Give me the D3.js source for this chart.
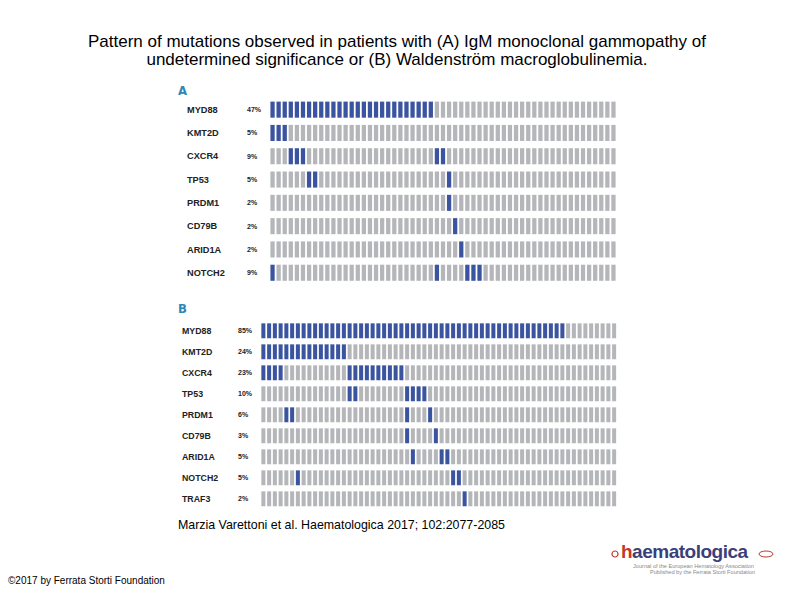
<!DOCTYPE html>
<html>
<head>
<meta charset="utf-8">
<script src="https://cdn.jsdelivr.net/npm/d3@7"></script>
<style>
  body { margin: 0; background: #fff; }
  svg { font-family: "Liberation Sans", Arial, sans-serif; }
</style>
</head>
<body>
<div id="chart"></div>
<script>
// panel A: IgM MGUS (57 patients)
var genesA = ["MYD88", "KMT2D", "CXCR4", "TP53", "PRDM1", "CD79B", "ARID1A", "NOTCH2"];
var pctA = ["47%", "5%", "9%", "5%", "2%", "2%", "2%", "9%"];
var patientsA = 57;
var mutatedA = [
  d3.range(0, 27),
  [0, 1, 2],
  [3, 4, 5, 27, 28],
  [6, 7, 29],
  [29],
  [30],
  [31],
  [0, 27, 32, 33, 34]
];

// panel B: Waldenström macroglobulinemia (62 patients)
var genesB = ["MYD88", "KMT2D", "CXCR4", "TP53", "PRDM1", "CD79B", "ARID1A", "NOTCH2", "TRAF3"];
var pctB = ["85%", "24%", "23%", "10%", "6%", "3%", "5%", "5%", "2%"];
var patientsB = 62;
var mutatedB = [
  d3.range(0, 53),
  d3.range(0, 15),
  [0, 1, 2, 3].concat(d3.range(15, 25)),
  [15, 16, 25, 26, 27, 28],
  [4, 5, 25, 29],
  [25, 30],
  [26, 31, 32],
  [6, 33, 34],
  [35]
];

var svgWidth = 794;
var svgHeight = 595;
var blue = "#3b54a0";
var grey = "#b5b6b9";

var svg = d3.select("#chart")
  .append("svg")
  .attr("width", svgWidth)
  .attr("height", svgHeight);

// title
var title = svg.append("text")
  .attr("x", 397)
  .attr("y", 47)
  .attr("text-anchor", "middle")
  .attr("font-size", "17px")
  .attr("fill", "#000");
title.append("tspan").attr("x", 397).text("Pattern of mutations observed in patients with (A) IgM monoclonal gammopathy of");
title.append("tspan").attr("x", 397).attr("dy", 18).text("undetermined significance or (B) Waldenström macroglobulinemia.");

function drawPanel(opt) {
  var g = svg.append("g");

  var x = d3.scaleBand()
    .domain(d3.range(opt.n))
    .range([opt.x0, opt.x1])
    .paddingInner(0.3)
    .paddingOuter(0.15);

  var y = d3.scaleBand()
    .domain(opt.genes)
    .range([opt.y0, opt.y0 + opt.step * opt.genes.length])
    .paddingInner(opt.pad)
    .paddingOuter(opt.pad / 2);

  // panel letter
  g.append("text")
    .attr("x", 178)
    .attr("y", opt.letterY)
    .attr("font-family", "'DejaVu Sans Condensed', 'Liberation Sans Narrow', sans-serif")
    .attr("font-weight", "bold")
    .attr("font-size", "13px")
    .attr("fill", "#2f86b5")
    .text(opt.letter);

  var rows = g.selectAll(".row")
    .data(opt.genes)
    .enter()
    .append("g")
    .attr("class", "row");

  rows.append("text")
    .attr("x", opt.geneX)
    .attr("y", d => y(d) + y.bandwidth() / 2)
    .attr("dy", "0.35em")
    .attr("font-size", opt.geneSize)
    .attr("font-weight", "bold")
    .attr("fill", "#222")
    .text(d => d);

  rows.append("text")
    .attr("x", opt.pctX)
    .attr("y", d => y(d) + y.bandwidth() / 2)
    .attr("dy", "0.35em")
    .attr("font-size", "7px")
    .attr("font-weight", "bold")
    .attr("fill", "#222")
    .text((d, i) => opt.pct[i]);

  rows.each(function(gene, i) {
    var hits = new Set(opt.mutated[i]);
    d3.select(this).selectAll("rect")
      .data(d3.range(opt.n))
      .enter()
      .append("rect")
      .attr("x", d => x(d))
      .attr("y", y(gene))
      .attr("width", x.bandwidth())
      .attr("height", y.bandwidth())
      .attr("fill", d => hits.has(d) ? blue : grey);
  });
}

drawPanel({
  letter: "A", letterY: 95,
  genes: genesA, pct: pctA, n: patientsA, mutated: mutatedA,
  x0: 269.5, x1: 616.5, y0: 98, step: 23.3, pad: 0.31,
  geneX: 187, pctX: 247, geneSize: "9.2px"
});

drawPanel({
  letter: "B", letterY: 313,
  genes: genesB, pct: pctB, n: patientsB, mutated: mutatedB,
  x0: 260.5, x1: 617, y0: 320.3, step: 21, pad: 0.29,
  geneX: 182, pctX: 238, geneSize: "8.8px"
});

// citation
svg.append("text")
  .attr("x", 178)
  .attr("y", 529)
  .attr("font-size", "12.4px")
  .attr("fill", "#000")
  .text("Marzia Varettoni et al. Haematologica 2017; 102:2077-2085");

// footer
svg.append("text")
  .attr("x", 8)
  .attr("y", 584)
  .attr("font-size", "10px")
  .attr("fill", "#000")
  .text("©2017 by Ferrata Storti Foundation");

// journal logo (text version)
var logo = svg.append("g").attr("transform", "translate(612, 558)");
logo.append("circle").attr("cx", 3).attr("cy", -4).attr("r", 3).attr("fill", "none").attr("stroke", "#c0392b").attr("stroke-width", 1.2);
var word = logo.append("text")
  .attr("x", 9)
  .attr("y", 0)
  .attr("font-size", "19px")
  .attr("font-weight", "bold")
  .attr("letter-spacing", "-0.5px");
word.append("tspan").attr("fill", "#c0392b").text("h");
word.append("tspan").attr("fill", "#3b3f7a").text("aematologica");
logo.append("text").attr("x", 21).attr("y", 10).attr("font-size", "5.6px").attr("fill", "#888")
  .text("Journal of the European Hematology Association");
logo.append("text").attr("x", 38).attr("y", 16).attr("font-size", "5.6px").attr("fill", "#888")
  .text("Published by the Ferrata Storti Foundation");
logo.append("ellipse").attr("cx", 154).attr("cy", -4).attr("rx", 7).attr("ry", 3).attr("fill", "none").attr("stroke", "#c0392b").attr("stroke-width", 1);
</script>
</body>
</html>
